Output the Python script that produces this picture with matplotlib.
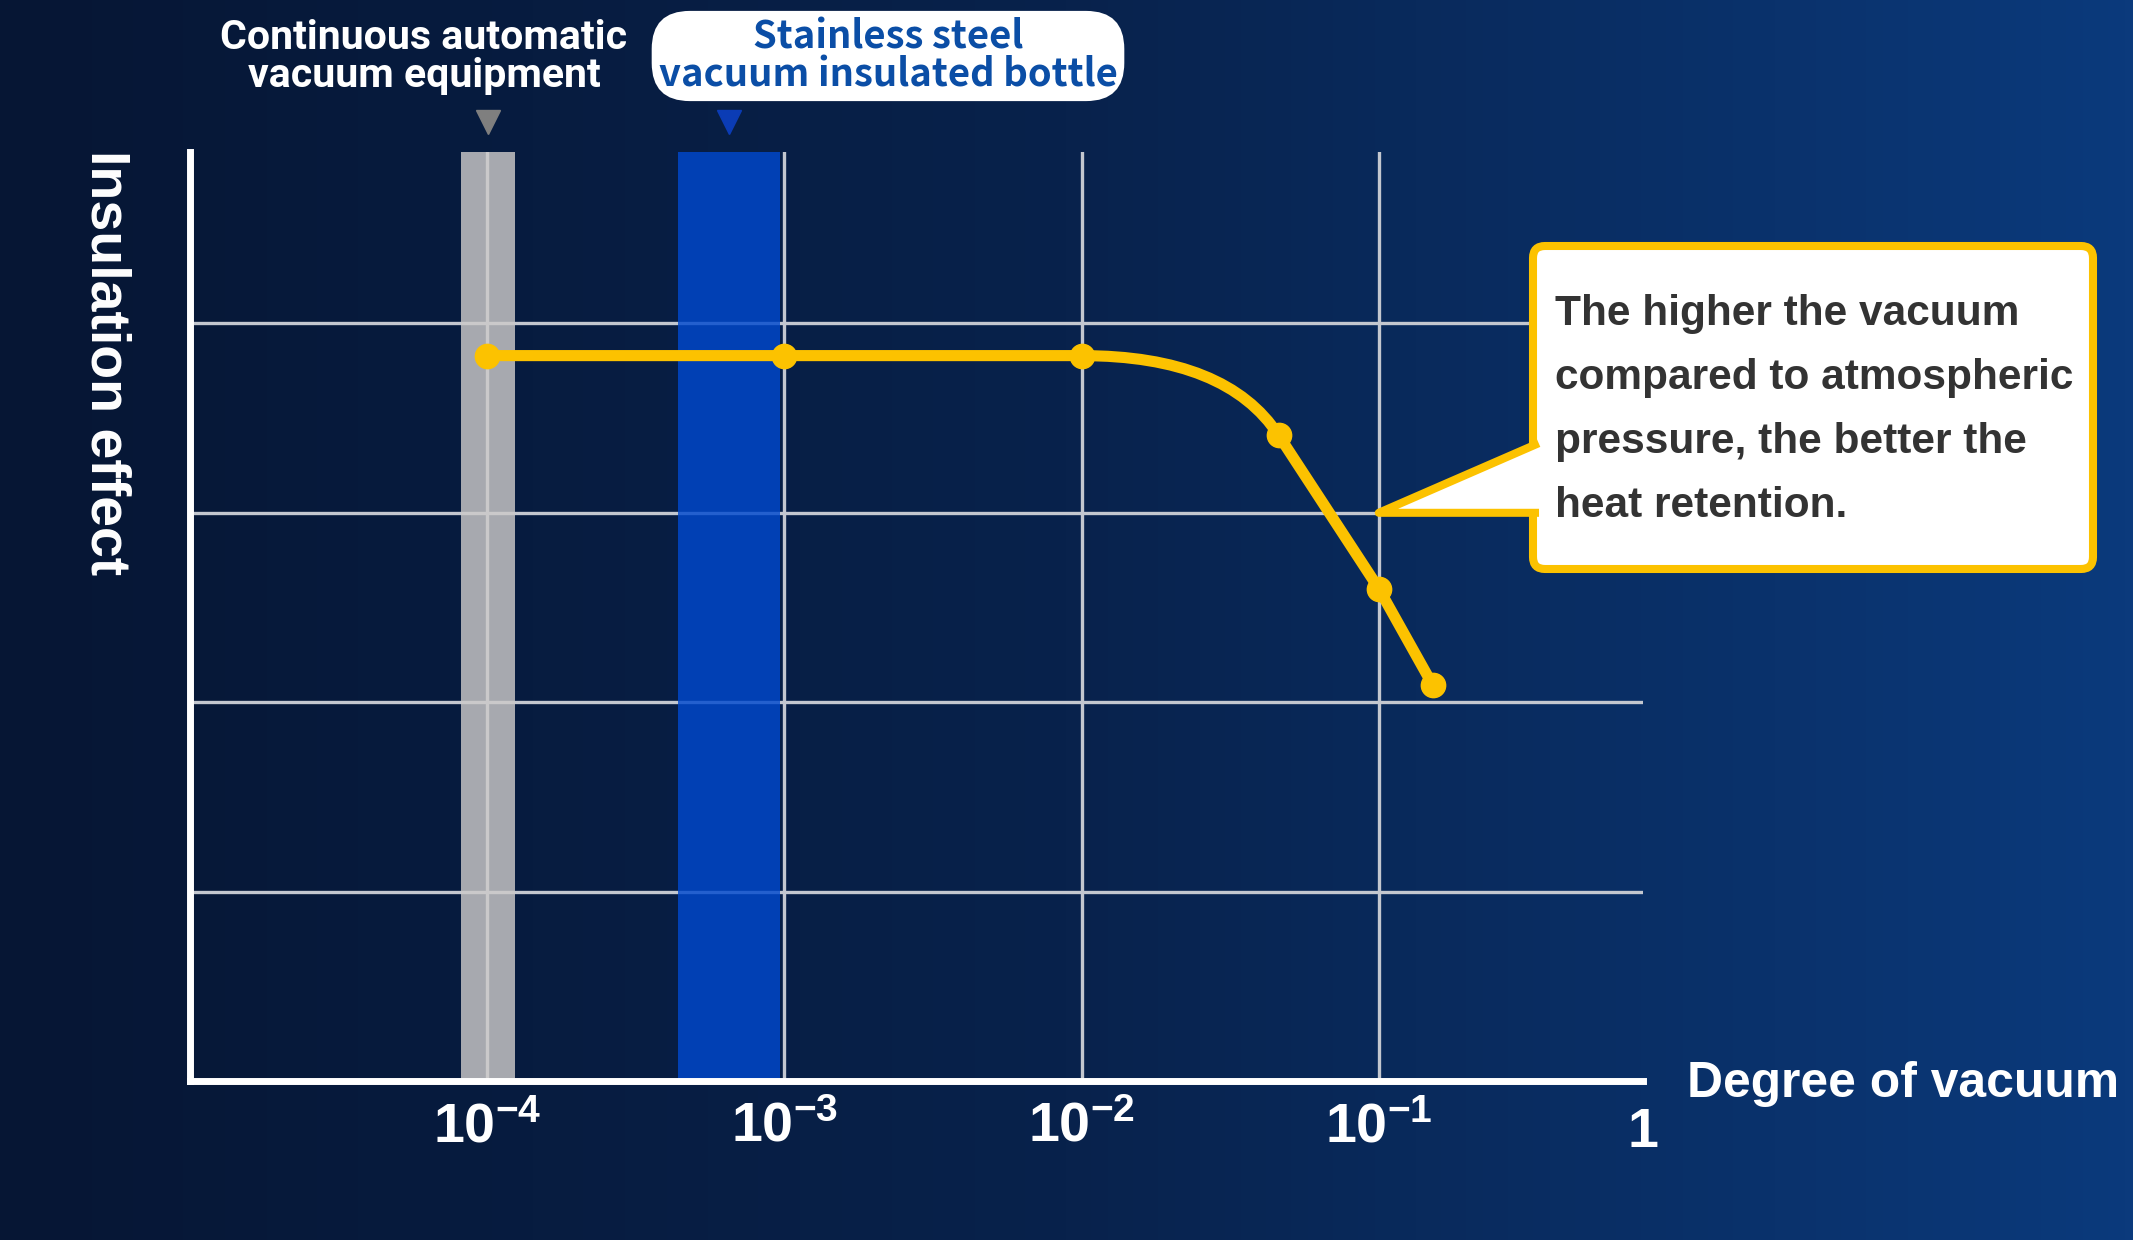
import numpy as np
import matplotlib.pyplot as plt
from matplotlib.colors import LinearSegmentedColormap
from matplotlib.patches import FancyBboxPatch, Polygon, PathPatch
from matplotlib.path import Path
from matplotlib.lines import Line2D
from matplotlib.transforms import IdentityTransform

W, H = 2133, 1240

# curve: degree of vacuum vs insulation effect
pressure = [1e-4, 1e-3, 1e-2, 0.046, 0.1, 0.152]
effect = [3.83, 3.83, 3.83, 3.41, 2.60, 2.09]

decades = [1e-4, 1e-3, 1e-2, 1e-1]
decade_labels = [r'$\mathbf{10^{-4}}$', r'$\mathbf{10^{-3}}$',
                 r'$\mathbf{10^{-2}}$', r'$\mathbf{10^{-1}}$']
x_end = 10 ** -0.111
end_label = r'$\mathbf{1}$'

equip_band = (8.15e-5, 1.24e-4)
bottle_band = (4.4e-4, 9.7e-4)

equip_label = 'Continuous automatic\nvacuum equipment'
bottle_label = 'Stainless steel\nvacuum insulated bottle'
note_lines = ['The higher the vacuum',
              'compared to atmospheric',
              'pressure, the better the',
              'heat retention.']
pointer_at = (0.1, 3.0)

yellow = '#fcc200'

plt.rcParams['mathtext.fontset'] = 'custom'
plt.rcParams['mathtext.bf'] = 'Liberation Sans:bold'
plt.rcParams['mathtext.rm'] = 'Liberation Sans'
plt.rcParams['font.family'] = ['Liberation Sans', 'DejaVu Sans']

fig = plt.figure(figsize=(W / 100, H / 100), dpi=100)

# background gradient
bg = fig.add_axes([0, 0, 1, 1], zorder=-10)
cmap = LinearSegmentedColormap.from_list('bg', ['#061634', '#08224c', '#0b3a7c'])
bg.imshow(np.linspace(0, 1, 256).reshape(1, -1), aspect='auto', cmap=cmap,
          extent=[0, 1, 0, 1])
bg.axis('off')

ax = fig.add_axes([190 / W, 1 - 1081 / H, (1643 - 190) / W, (1081 - 152) / H])
ax.set_facecolor('none')
ax.set_xscale('log')
ax.set_xlim(1e-5, x_end)
ax.set_ylim(0, 4.905)

ax.set_xticks(decades, decade_labels)
ax.set_xticks([x_end], [end_label], minor=True)
ax.set_yticks([1, 2, 3, 4], [])
ax.tick_params(which='both', length=0)
ax.tick_params(axis='x', which='major', pad=15, labelsize=40, labelcolor='white')
ax.tick_params(axis='x', which='minor', pad=19, labelsize=40, labelcolor='white')
ax.grid(True, which='major', color='#c3c7cf', lw=2.4)
ax.set_axisbelow(True)
for s in ['top', 'right']:
    ax.spines[s].set_visible(False)
for s in ['left', 'bottom']:
    ax.spines[s].set_color('white')
    ax.spines[s].set_linewidth(5)
    ax.spines[s].set_capstyle('projecting')

ax.axvspan(*equip_band, color='#cccac9', alpha=0.82, lw=0, zorder=1)
ax.axvspan(*bottle_band, color='#0048ce', alpha=0.82, lw=0, zorder=1)

# triangles above bands
ax.plot([np.sqrt(equip_band[0] * equip_band[1])], [1.032], marker='v', ms=17,
        color='#7f7f7f', transform=ax.get_xaxis_transform(), clip_on=False)
ax.plot([np.sqrt(bottle_band[0] * bottle_band[1])], [1.032], marker='v', ms=17,
        color='#0b3cb5', transform=ax.get_xaxis_transform(), clip_on=False)

# curve with a rounded knee
lx = np.log10(pressure)
slope = (effect[4] - effect[3]) / (lx[4] - lx[3])
cx = lx[3] + (effect[2] - effect[3]) / slope
verts = [(pressure[0], effect[0]), (pressure[1], effect[1]), (pressure[2], effect[2]),
         (10 ** cx, effect[2]), (pressure[3], effect[3]),
         (pressure[4], effect[4]), (pressure[5], effect[5])]
codes = [Path.MOVETO, Path.LINETO, Path.LINETO, Path.CURVE3, Path.CURVE3,
         Path.LINETO, Path.LINETO]
ax.add_patch(PathPatch(Path(verts, codes), fill=False, ec=yellow, lw=8,
                       capstyle='round', joinstyle='round', zorder=3))
ax.plot(pressure, effect, 'o', ms=17.5, color=yellow, zorder=4, clip_on=False)

# callout
tx, ty = ax.transData.transform(pointer_at)
bx0, by0, bx1, by1 = 1533, H - 569, 2093, H - 246
box = FancyBboxPatch((bx0, by0), bx1 - bx0, by1 - by0,
                     boxstyle='round,pad=0,rounding_size=12', fc='white',
                     ec=yellow, lw=5.8, transform=IdentityTransform(), zorder=5)
fig.add_artist(box)
up = ty + 68
fig.add_artist(Polygon([(tx, ty), (bx0, up), (bx0 + 10, up), (bx0 + 10, ty), (bx0, ty)],
                       closed=True, fc='white', ec='none',
                       transform=IdentityTransform(), zorder=6))
fig.add_artist(Line2D([bx0 + 2, tx, bx0 + 2], [up, ty, ty], color=yellow, lw=5.8,
                      solid_joinstyle='round', transform=IdentityTransform(), zorder=7))
for i, line in enumerate(note_lines):
    fig.text(1555 / W, 1 - (325 + 64 * i) / H, line, ha='left', va='baseline',
             fontsize=30.5, fontweight='bold', color='#333333', zorder=8)

# labels
fig.text(424 / W, 1 - 57 / H, equip_label, ha='center', va='center', fontsize=29.5,
         fontweight='bold', color='white', family=['Roboto', 'DejaVu Sans'],
         linespacing=1.0)
fig.text(888 / W, 1 - 56 / H, bottle_label, ha='center', va='center', fontsize=27.5,
         fontweight='bold', color='#0b4ea6',
         family=['Noto Sans CJK JP', 'DejaVu Sans'], linespacing=0.95,
         bbox=dict(boxstyle='round,pad=0.18,rounding_size=1.0', fc='white', ec='none'))
fig.text(1687 / W, 1 - 1097 / H, 'Degree of vacuum', ha='left', va='baseline',
         fontsize=35.8, fontweight='bold', color='white')
fig.text(105 / W, 1 - 150 / H, 'Insulation effect', ha='center', va='top',
         rotation=270, fontsize=40, fontweight='bold', color='white')

fig.savefig('out.png', dpi=100)
